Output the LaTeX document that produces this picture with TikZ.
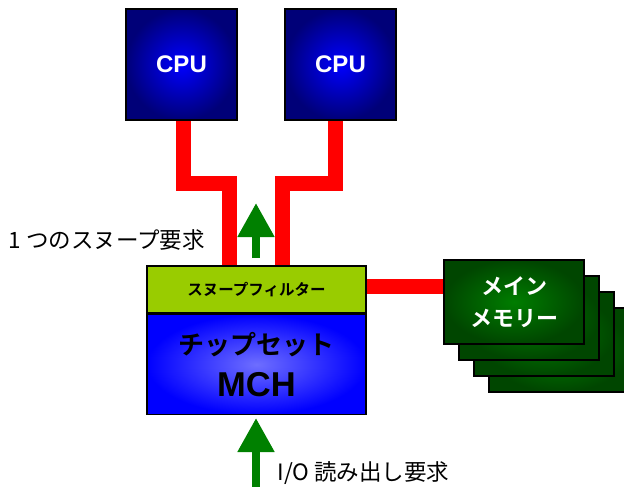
\documentclass[tikz,border=0pt]{standalone}
\usepackage{fontspec}
\setmainfont{Liberation Sans}
\newfontfamily\jpfont{Noto Sans CJK JP}[BoldFont={Noto Sans CJK JP Bold}]
\usetikzlibrary{arrows.meta, positioning}

\definecolor{cpuedge}{RGB}{0,0,120}
\definecolor{cpucore}{RGB}{0,0,255}
\definecolor{filtergreen}{RGB}{153,204,0}
\definecolor{mchcore}{RGB}{110,110,255}
\definecolor{memedge}{RGB}{0,70,0}
\definecolor{memcore}{RGB}{0,125,0}
\definecolor{busred}{RGB}{255,0,0}
\definecolor{reqgreen}{RGB}{0,128,0}

\begin{document}
\begin{tikzpicture}[x=1pt, y=-1pt,
  cpubox/.style={rectangle, draw=black, line width=2pt, inner color=cpucore, outer color=cpuedge, minimum width=111pt, minimum height=111pt, text=white, font=\fontsize{24}{28}\selectfont\bfseries},
  membox/.style={rectangle, draw=black, line width=1.5pt, inner color=memcore, outer color=memedge, minimum width=140pt, minimum height=84pt, text=white, align=center, font=\jpfont\fontsize{22}{32}\selectfont\bfseries},
  bus/.style={draw=busred, line width=15pt},
  request/.style={draw=reqgreen, line width=8pt, -{Triangle[width=35pt, length=34pt]}},
  label/.style={font=\jpfont\fontsize{22.5}{26}\selectfont}]
\clip (0,0) rectangle (624,487);

% processors
\node (cpu1) [cpubox] at (181.5,64.5) {CPU};
\node (cpu2) [cpubox] at (340.5,64.5) {CPU};

% chipset with its snoop filter on top
\node (filter) [rectangle, draw=black, line width=1.5pt, fill=filtergreen, minimum width=219pt, minimum height=47pt, font=\jpfont\fontsize{15.5}{18}\selectfont\bfseries] at (256.5,289.5) {スヌープフィルター};
\node (mch) [rectangle, draw=black, line width=1.5pt, inner color=mchcore, outer color=blue, minimum width=219pt, minimum height=100pt, below=0pt of filter, align=center] {{\jpfont\fontsize{26}{30}\selectfont\bfseries チップセット}\\[15pt]{\fontsize{34.5}{38}\selectfont\bfseries MCH}};

% main memory as a stack of cards
\foreach \k in {3,2,1} {
  \node [membox] at (514+15*\k,302+16*\k) {};
}
\node (mem) [membox] at (514,302) {メイン\\メモリー};

% front-side bus
\coordinate (bend1) at (229,183);
\coordinate (bend2) at (282,183);
\draw [bus] ([xshift=1.5pt]cpu1.south) |- (bend1) -- (bend1 |- filter.north);
\draw [bus] ([xshift=-5.5pt]cpu2.south) |- (bend2) -- (bend2 |- filter.north);
\draw [bus] ([yshift=3.5pt]filter.east) -- ([yshift=3.5pt]filter.east -| mem.west);

% snoop request and I/O read
\coordinate (snoop) at (256,258);
\coordinate (ioin) at (256,487);
\draw [request] (snoop) -- ++(0,-55);
\draw [request] (ioin) -- ++(0,-69);
\node (snooptext) [label, anchor=west] at (5,240) {1 つのスヌープ要求};
\node (iotext) [label, anchor=west] at (274,473) {I/O 読み出し要求};
\end{tikzpicture}
\end{document}
